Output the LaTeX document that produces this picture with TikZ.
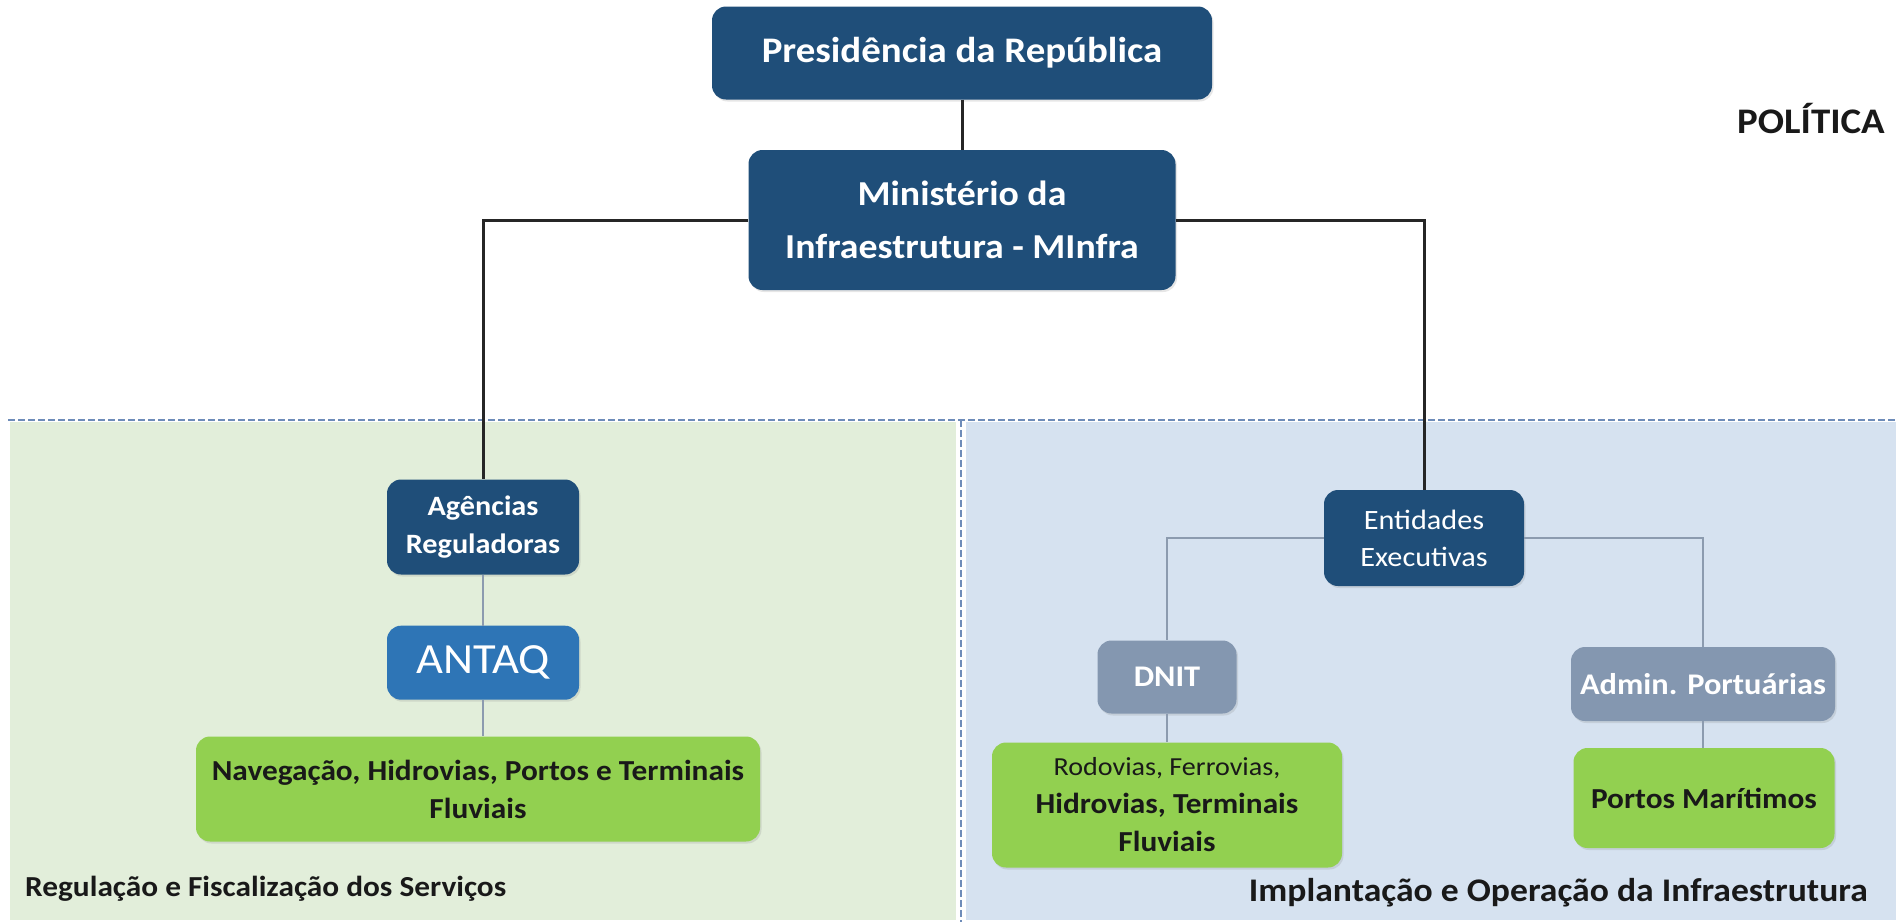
\documentclass[tikz,border=0pt]{standalone}
\usepackage{fontspec}
\setmainfont{Carlito}[FakeStretch=1.08]
\usetikzlibrary{shadows}
\definecolor{navy}{RGB}{31,78,121}
\definecolor{antaqblue}{RGB}{46,117,182}
\definecolor{slateblue}{RGB}{132,151,176}
\definecolor{leafgreen}{RGB}{146,208,80}
\definecolor{regbg}{RGB}{226,238,218}
\definecolor{infbg}{RGB}{214,226,240}
\definecolor{dashblue}{RGB}{110,140,185}
\definecolor{wire}{RGB}{140,155,175}
\tikzstyle{boxstyle}=[rounded corners=14pt, align=center, inner sep=0pt,
  drop shadow={opacity=0.2, shadow xshift=1.5pt, shadow yshift=-2pt}]
\tikzstyle{navybox}=[boxstyle, fill=navy, text=white]
\tikzstyle{antaqbox}=[boxstyle, fill=antaqblue, text=white]
\tikzstyle{slatebox}=[boxstyle, fill=slateblue, text=white,
  font=\fontsize{30}{36}\selectfont\bfseries]
\tikzstyle{greenbox}=[boxstyle, fill=leafgreen, text=black!90,
  font=\fontsize{29}{38}\selectfont\bfseries]
\tikzstyle{caption}=[inner sep=0pt, text=black!90]
\tikzstyle{blackline}=[draw, line width=3pt, color=black!85]
\tikzstyle{grayline}=[draw, line width=1.2pt, color=wire]
\tikzstyle{regionline}=[draw, dash pattern=on 7pt off 3pt, line width=2pt, color=dashblue]
\newcommand{\orgnode}[3]{node (#1) [#2] {#3}}

\begin{document}
\begin{tikzpicture}[x=1pt, y=-1pt]
\useasboundingbox (0,0) rectangle (1896,922);

% Draw the two regions
\fill[regbg] (10,422) rectangle (956,920);
\fill[infbg] (966,422) rectangle (1896,920);
\path[regionline] (8,420) -- (1896,420);
\path[regionline] (961,420) -- (961,922);

% Draw diagram elements
\path (962,53)   \orgnode{pres}{navybox, minimum width=500, minimum height=93,
  font=\fontsize{36}{44}\selectfont\bfseries}{Presidência da República};
\path (962,220)  \orgnode{minfra}{navybox, minimum width=427, minimum height=140,
  font=\fontsize{35}{53}\selectfont\bfseries}{Ministério da\\Infraestrutura - MInfra};
\path (483,527)  \orgnode{agen}{navybox, minimum width=192, minimum height=95,
  font=\fontsize{28}{38}\selectfont\bfseries}{Agências\\Reguladoras};
\path (agen.south) + (0,88) \orgnode{antaq}{antaqbox, minimum width=192, minimum height=74,
  font=\fontsize{43}{50}\selectfont}{ANTAQ};
\path (478,789)  \orgnode{nav}{greenbox, minimum width=564, minimum height=105}
  {Navegação, Hidrovias, Portos e Terminais\\Fluviais};
\path (1424,538) \orgnode{entid}{navybox, minimum width=200, minimum height=96,
  font=\fontsize{28}{37}\selectfont}{Entidades\\Executivas};
\path (1167,677) \orgnode{dnit}{slatebox, minimum width=139, minimum height=73}{DNIT};
\path (1703,684) \orgnode{admin}{slatebox, minimum width=264, minimum height=74}{Admin. Portuárias};
\path (1167,805) \orgnode{rodo}{greenbox, minimum width=350, minimum height=125}
  {{\fontsize{26}{30}\selectfont\mdseries Rodovias, Ferrovias,}\\Hidrovias, Terminais\\Fluviais};
\path (1704,798) \orgnode{porto}{greenbox, minimum width=261, minimum height=100}{Portos Marítimos};

% Draw the texts
\path (1811,118) \orgnode{politica}{caption, font=\fontsize{36}{42}\selectfont\bfseries}{POLÍTICA};
\path (25,889)   \orgnode{regcap}{caption, anchor=west,
  font=\fontsize{29}{35}\selectfont\bfseries}{Regulação e Fiscalização dos Serviços};
\path (1868,893) \orgnode{infcap}{caption, anchor=east,
  font=\fontsize{33}{39}\selectfont\bfseries}{Implantação e Operação da Infraestrutura};

% Draw lines between elements
\path [blackline] (pres) -- (minfra);
\path [blackline] (minfra.west) -| (agen.north);
\path [blackline] (minfra.east) -| (entid.north);
\path [grayline] (agen) -- (antaq);
\path [grayline] (antaq.south) -- (antaq.south |- nav.north);
\path [grayline] (entid.west) -| (dnit.north);
\path [grayline] (entid.east) -| (admin.north);
\path [grayline] (dnit) -- (rodo);
\path [grayline] (admin.south) -- (admin.south |- porto.north);

\end{tikzpicture}
\end{document}
